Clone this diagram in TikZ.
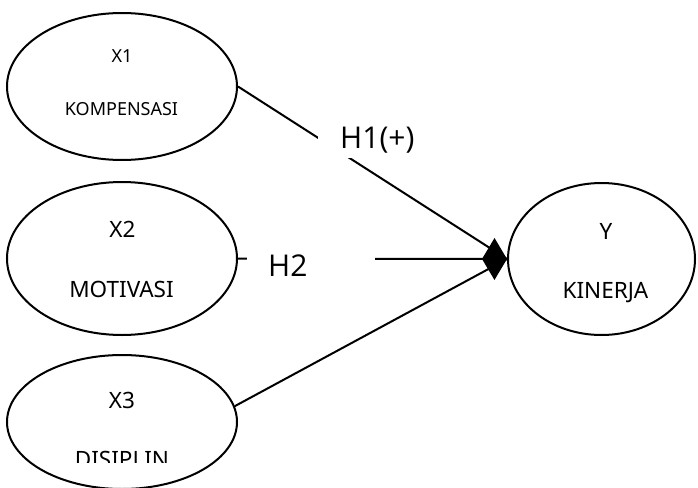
\documentclass[tikz,border=0pt]{standalone}
\usepackage{fontspec}
\setmainfont{Noto Sans}
\newfontfamily\hfont{Open Sans}
\usetikzlibrary{arrows.meta,shapes.geometric}
\begin{document}
\begin{tikzpicture}[x=1pt,y=-1pt,
  ell/.style={draw=black,line width=2pt,ellipse,inner sep=0pt},
  txtbig/.style={anchor=base,inner sep=0pt,font=\fontsize{22.5}{26}\selectfont},
  txtsmall/.style={anchor=base,inner sep=0pt,font=\fontsize{18}{22}\selectfont},
  hlab/.style={fill=white,inner ysep=5pt,font=\hfont\fontsize{30}{36}\selectfont},
  conn/.style={draw=black,line width=2pt}]
\useasboundingbox (0,0) rectangle (698,487);
\node[ell,minimum width=230pt,minimum height=147pt] (x1) at (122,86.5) {};
\node[ell,minimum width=230pt,minimum height=153pt] (x2) at (122,258.5) {};
\node[ell,minimum width=230pt,minimum height=134pt] (x3) at (122,422) {};
\node[ell,minimum width=187pt,minimum height=152pt] (y) at (601.5,259) {};
\node[txtsmall] (x1a) at (122,63) {X1};
\node[txtsmall] (x1b) at (121.5,115) {KOMPENSASI};
\node[txtbig] (x2a) at (122.5,237) {X2};
\node[txtbig] (x2b) at (121.5,297) {MOTIVASI};
\node[txtbig] (x3a) at (122,408) {X3};
\begin{scope}
\clip (0,440) rectangle (698,462);
\node[txtbig] (x3b) at (122,467) {DISIPLIN};
\end{scope}
\node[txtbig] (ya) at (606,239) {Y};
\node[txtbig] (yb) at (605.5,298) {KINERJA};
\draw[conn] (x1.east) -- (y.west);
\draw[conn] (x3.8) -- (y.west);
\draw[conn,-{Diamond[length=25pt,width=42pt]}] (x2.east) -- (y.west);
\node[hlab,anchor=south west,inner xsep=22pt] (h1) at (318,158) {H1(+)};
\node[hlab,anchor=west,inner xsep=21pt,text width=86pt,align=left] (h2) at (247,266) {H2};
\end{tikzpicture}
\end{document}
